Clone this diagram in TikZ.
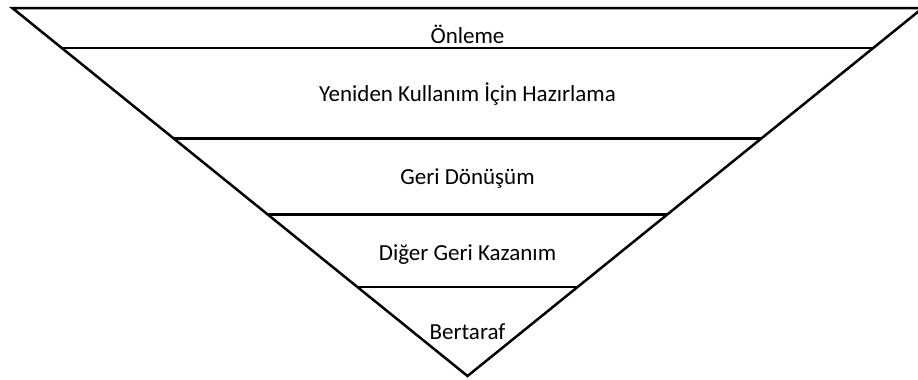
\documentclass[tikz,border=0pt]{standalone}
\usepackage{fontspec}
\setmainfont{Carlito}
\usepackage{tikz}
\usetikzlibrary{calc}

\begin{document}
\begin{tikzpicture}[x=1pt,y=-1pt,line width=2.5pt,
  level/.style={anchor=base,inner sep=0pt,font=\fontsize{23}{27}\selectfont}]
\clip (0,0) rectangle (918,380);
\coordinate (A) at (467.5,376);
\coordinate (TL) at (12.3,8);
\coordinate (TR) at (922.7,8);
\draw[line join=miter] (TL) -- (TR) -- (A) -- cycle;

\draw ($(A)!0.8913!(TL)$) -- ($(A)!0.8913!(TR)$);
\draw ($(A)!0.6454!(TL)$) -- ($(A)!0.6454!(TR)$);
\draw ($(A)!0.4389!(TL)$) -- ($(A)!0.4389!(TR)$);
\draw ($(A)!0.2418!(TL)$) -- ($(A)!0.2418!(TR)$);

\node[level] (onleme) at (467.5,43) {Önleme};
\node[level] (hazirlama) at (467.5,101) {Yeniden Kullanım İçin Hazırlama};
\node[level] (donusum) at (467.5,184) {Geri Dönüşüm};
\node[level] (kazanim) at (467.5,260) {Diğer Geri Kazanım};
\node[level] (bertaraf) at (467.5,339) {Bertaraf};
\end{tikzpicture}
\end{document}
